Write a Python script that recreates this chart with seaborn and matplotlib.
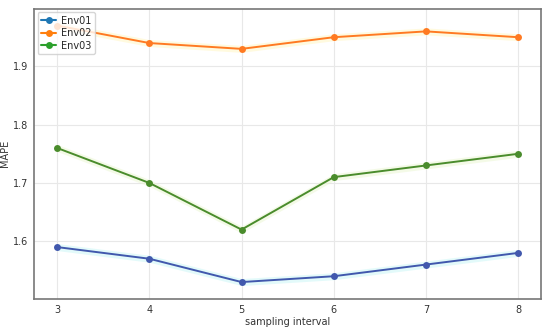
import numpy as np
import pandas as pd
import matplotlib
matplotlib.use("Agg")
import matplotlib.pyplot as plt
from matplotlib.lines import Line2D
import seaborn as sns

intervals = [3, 4, 5, 6, 7, 8]
env01 = [1.59, 1.57, 1.53, 1.54, 1.56, 1.58]
env02 = [1.97, 1.94, 1.93, 1.95, 1.96, 1.95]
env03 = [1.76, 1.70, 1.62, 1.71, 1.73, 1.75]
names = ["Env01", "Env02", "Env03"]

df = pd.DataFrame({
    "sampling interval": intervals * 3,
    "MAPE": env01 + env02 + env03,
    "env": [n for n in names for _ in intervals],
})

sns.set_style("white")
plt.rcParams["font.family"] = ["DejaVu Sans"]

fig, ax = plt.subplots(figsize=(5.5, 3.29), dpi=100)
# colours of the drawn lines (as seen) and of the legend (tab10)
line_colors = {"Env01": "#4158ad", "Env02": "#ff7a22", "Env03": "#4a8c2c"}
legend_colors = {"Env01": "#1f77b4", "Env02": "#ff7f0e", "Env03": "#2ca02c"}
band = {"Env01": "#c8f6f6", "Env02": "#fff6c0", "Env03": "#eaf6d0"}

for name in names:
    sub = df[df["env"] == name]
    ax.fill_between(sub["sampling interval"], sub["MAPE"] - 0.006, sub["MAPE"] + 0.006,
                    color=band[name], alpha=0.5, lw=0, zorder=1)

sns.lineplot(data=df, x="sampling interval", y="MAPE", hue="env", palette=line_colors,
             marker="o", markersize=5, markeredgewidth=0, linewidth=1.4, ax=ax, zorder=3,
             legend=False)

ax.grid(True, color="#e8e8e8", linewidth=0.8)
ax.set_axisbelow(True)
for s in ax.spines.values():
    s.set_color("#777777")
    s.set_linewidth(1.2)
ax.tick_params(axis="both", labelsize=7, length=3, pad=1.5, color="#555555", colors="#333333")
ax.set_yticks([1.6, 1.7, 1.8, 1.9])
ax.set_xlabel("sampling interval", fontsize=7, color="#333333")
ax.xaxis.set_label_coords(0.5, -0.062)
ax.set_ylabel("MAPE", fontsize=7, color="#333333")
ax.yaxis.set_label_coords(-0.047, 0.5)

handles = [Line2D([], [], color=legend_colors[n], marker="o", markersize=5,
                  markeredgewidth=0, linewidth=1.5, label=n) for n in names]
ax.legend(handles=handles, loc="upper left", fontsize=7, borderaxespad=0.35,
          handlelength=1.6, handletextpad=0.5, labelspacing=0.25, borderpad=0.35)

fig.subplots_adjust(left=0.062, right=0.984, top=0.973, bottom=0.092)
fig.savefig("out.png", dpi=100)
